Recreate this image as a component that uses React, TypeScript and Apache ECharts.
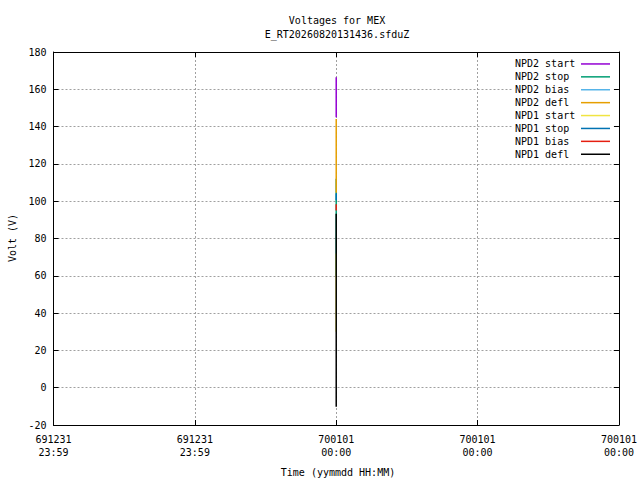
import React, { useEffect, useRef } from "react";
import * as echarts from "echarts";

const titleLines = ["Voltages for MEX", "E_RT20260820131436.sfduZ"];
const xAxisTitle = "Time (yymmdd HH:MM)";
const yAxisTitle = "Volt (V)";

const xTickValues = [-2, -1, 0, 1, 2];
const xTickLabels = [
  "691231\n23:59",
  "691231\n23:59",
  "700101\n00:00",
  "700101\n00:00",
  "700101\n00:00",
];
const yMin = -20;
const yMax = 180;
const yStep = 20;

const seriesNames = [
  "NPD2 start",
  "NPD2 stop",
  "NPD2 bias",
  "NPD2 defl",
  "NPD1 start",
  "NPD1 stop",
  "NPD1 bias",
  "NPD1 defl",
];
const seriesColors = [
  "#9400d3",
  "#009e73",
  "#56b4e9",
  "#e69f00",
  "#f0e442",
  "#0072b2",
  "#e51e10",
  "#000000",
];

// all samples share the same time stamp (700101 00:00)
const sampleTime = 0;
const npd2Start = [166.4, 155.0, 145.0];
const npd2Stop = [112.0, 60.0];
const npd2Bias = [167.1, 166.8];
const npd2Defl = [144.1, 125.0, 104.5];
const npd1Start = [72.0, 30.0];
const npd1Stop = [104.2, 100.5];
const npd1Bias = [98.3, 95.0];
const npd1Defl = [93.3, 40.0, -10.2];

const seriesValues = [
  npd2Start,
  npd2Stop,
  npd2Bias,
  npd2Defl,
  npd1Start,
  npd1Stop,
  npd1Bias,
  npd1Defl,
];

const MONO = "'DejaVu Sans Mono', 'Liberation Mono', monospace";

export default function App() {
  const ref = useRef<HTMLDivElement>(null);

  useEffect(() => {
    if (!ref.current) return;
    const chart = echarts.init(ref.current, null, { renderer: "svg" });

    const axisLine = { show: true, onZero: false, lineStyle: { color: "#000", width: 1 } };
    const axisTick = { show: true, inside: true, length: 5, lineStyle: { color: "#000", width: 1 } };
    const splitLine = {
      show: true,
      showMinLine: false,
      showMaxLine: false,
      lineStyle: { color: "#a0a0a0", width: 1, type: [2, 2] },
    };
    const labelStyle = { fontFamily: MONO, fontSize: 10, color: "#000" };

    const textEl = (text: string, x: number, y: number, rotation = 0) => ({
      type: "text",
      x,
      y,
      rotation,
      silent: true,
      style: {
        text,
        fill: "#000",
        fontFamily: MONO,
        fontSize: 10,
        align: "center",
        verticalAlign: "middle",
        textAlign: "center",
        textVerticalAlign: "middle",
      },
    });

    const option: any = {
      animation: false,
      backgroundColor: "#fff",
      grid: { left: 53.5, right: 18.5, top: 52, bottom: 55, show: false },
      graphic: [
        textEl(titleLines[0], 337, 20),
        textEl(titleLines[1], 337, 34),
        textEl(xAxisTitle, 338, 472),
        textEl(yAxisTitle, 12, 238, Math.PI / 2),
      ],
      legend: {
        orient: "vertical",
        right: 19,
        top: 53.5,
        padding: [4, 11, 2, 2],
        backgroundColor: "#fff",
        z: 4,
        align: "right",
        icon: "rect",
        itemWidth: 29,
        itemHeight: 1.5,
        itemGap: 0,
        selectedMode: false,
        data: seriesNames,
        formatter: (name: string) => `{t|${name}}`,
        textStyle: {
          fontFamily: MONO,
          fontSize: 10,
          color: "#000",
          lineHeight: 12.9,
          rich: {
            t: { fontFamily: MONO, fontSize: 10, color: "#000", lineHeight: 12.9, width: 61, align: "left" },
          },
        },
      },
      xAxis: [
        {
          type: "value",
          position: "bottom",
          min: xTickValues[0],
          max: xTickValues[xTickValues.length - 1],
          interval: 1,
          z: 0,
          axisLine,
          axisTick,
          splitLine,
          axisLabel: {
            ...labelStyle,
            lineHeight: 13,
            margin: 8,
            showMinLabel: true,
            showMaxLabel: true,
            formatter: (v: number) => {
              const i = xTickValues.indexOf(Math.round(v));
              return i >= 0 ? xTickLabels[i] : "";
            },
          },
        },
        {
          type: "value",
          position: "top",
          min: xTickValues[0],
          max: xTickValues[xTickValues.length - 1],
          interval: 1,
          z: 6,
          axisLine,
          axisTick,
          splitLine: { show: false },
          axisLabel: { show: false },
        },
      ],
      yAxis: [
        {
          type: "value",
          position: "left",
          min: yMin,
          max: yMax,
          interval: yStep,
          z: 0,
          axisLine,
          axisTick,
          splitLine,
          axisLabel: { ...labelStyle, margin: 7, showMinLabel: true, showMaxLabel: true },
        },
        {
          type: "value",
          position: "right",
          min: yMin,
          max: yMax,
          interval: yStep,
          z: 6,
          axisLine,
          axisTick,
          splitLine: { show: false },
          axisLabel: { show: false },
        },
      ],
      series: seriesNames.map((name, i) => ({
        name,
        type: "line",
        xAxisIndex: 0,
        yAxisIndex: 0,
        symbol: "none",
        silent: true,
        z: 2,
        color: seriesColors[i],
        lineStyle: { color: seriesColors[i], width: 1.5 },
        itemStyle: { color: seriesColors[i] },
        emphasis: { disabled: true },
        data: seriesValues[i].map((v) => [sampleTime, v]),
      })),
    };

    chart.setOption(option);
    return () => chart.dispose();
  }, []);

  return (
    <div
      ref={ref}
      style={{ position: "absolute", left: 0, top: 0, width: 640, height: 480, background: "#fff" }}
    />
  );
}
